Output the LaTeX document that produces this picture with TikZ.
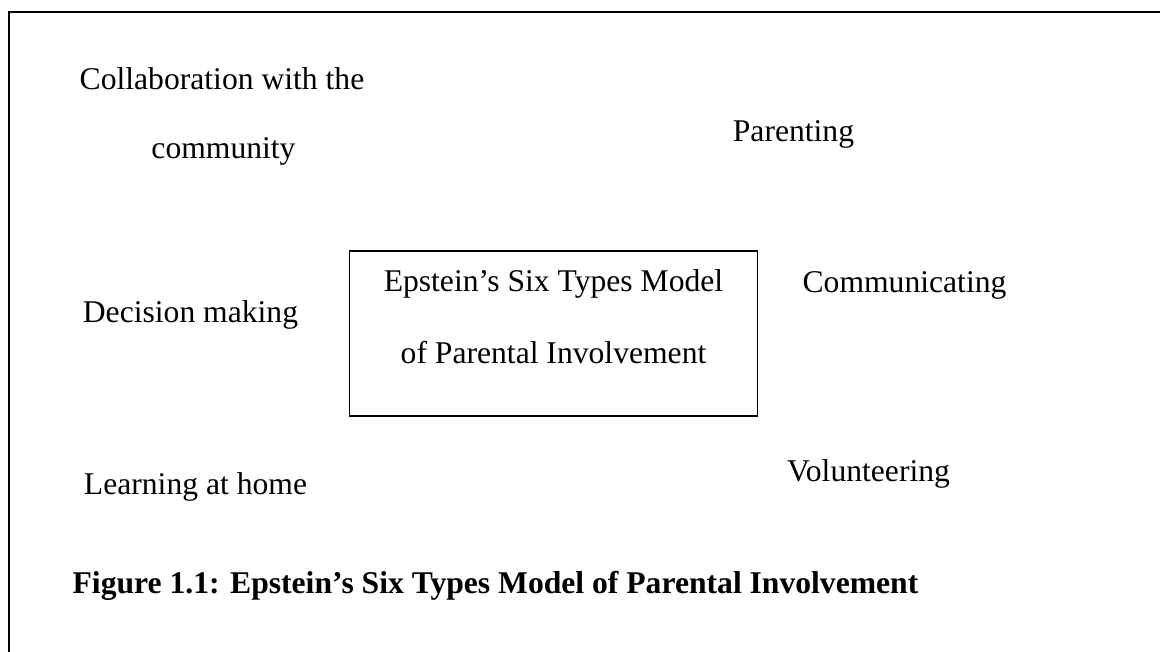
\documentclass[tikz,border=0pt]{standalone}
\usepackage{fontspec}
\setmainfont{Liberation Serif}
\usepackage{tikz}
\usetikzlibrary{positioning}

\begin{document}
\begin{tikzpicture}[
x=0.02cm,y=-0.02cm,
item/.style={draw=none,fill=none,inner sep=0pt,anchor=base,
    font=\fontsize{18}{22}\selectfont},
caption/.style={item,font=\fontsize{18}{22}\selectfont\bfseries},
modelbox/.style={draw,line width=0.6pt,minimum width=8.18cm,minimum height=3.3cm,inner sep=0pt},
frame/.style={line width=0.6pt}]

\useasboundingbox (0,0) rectangle (1160,652);
\draw[frame] (9,652) -- (9,12) -- (1160,12);

\node[modelbox] (model) at (553.5,333.5) {};
\node[item] (model1) at (553.5,291) {Epstein’s Six Types Model};
\node[item] (model2) at (553.5,363) {of Parental Involvement};

\foreach \nm/\xx/\yy/\txt in {
    collab/222/90/{Collaboration with the},
    community/223.5/158/{community},
    parenting/793.5/142/{Parenting},
    decision/190.5/322/{Decision making},
    communicating/904.5/292/{Communicating},
    learning/195.5/494/{Learning at home},
    volunteering/868.5/481/{Volunteering}}
\node[item] (\nm) at (\xx,\yy) {\txt};

\node[caption] (fig) at (495.5,593) {Figure 1.1: Epstein’s Six Types Model of Parental Involvement};
\end{tikzpicture}
\end{document}
